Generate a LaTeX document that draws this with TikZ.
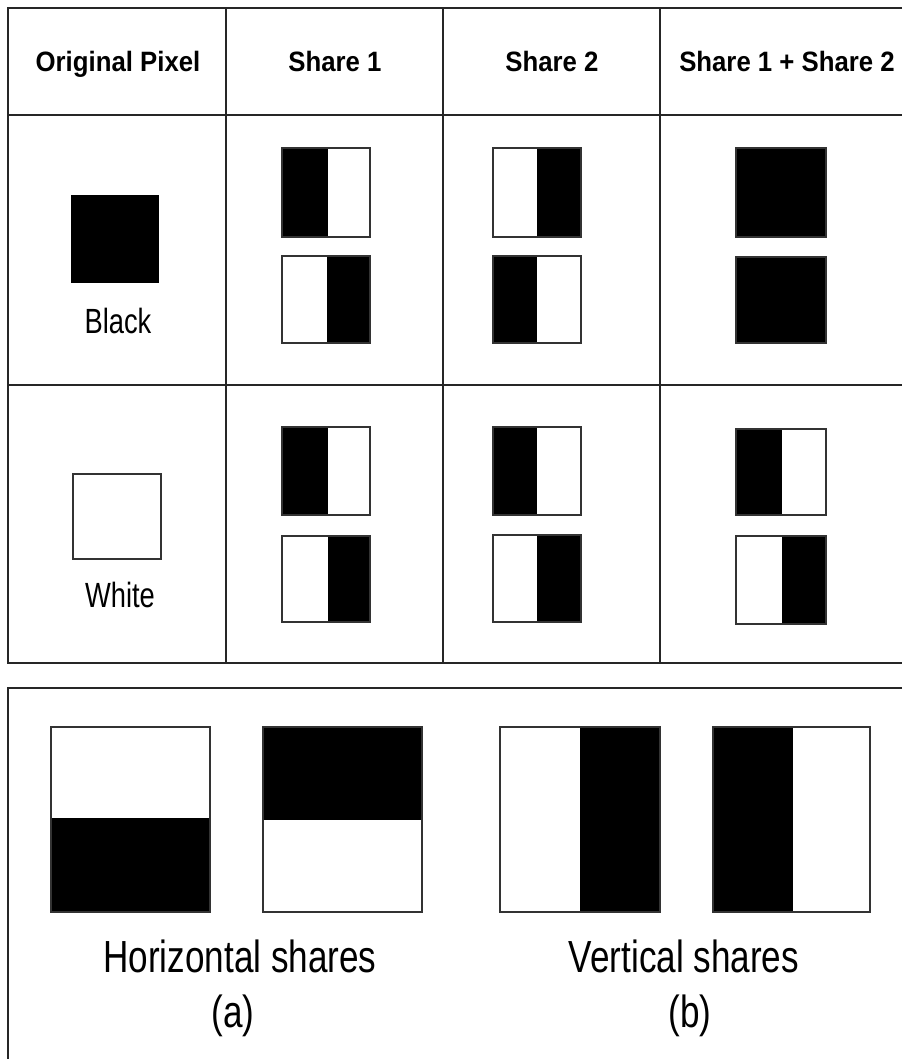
\documentclass[tikz,border=0pt]{standalone}
\usepackage{fontspec}
\setmainfont{Liberation Sans}
\usepackage{graphicx}

% share squares: corners (x1,y1)-(x2,y2), split at the fifth argument
\newcommand\sqblackleft[5]{\fill[black] (#1,#2) rectangle (#5,#4);\draw[sqframe] (#1,#2) rectangle (#3,#4);}
\newcommand\sqblackright[5]{\fill[black] (#5,#2) rectangle (#3,#4);\draw[sqframe] (#1,#2) rectangle (#3,#4);}
\newcommand\sqblacktop[5]{\fill[black] (#1,#2) rectangle (#3,#5);\draw[sqframe] (#1,#2) rectangle (#3,#4);}
\newcommand\sqblackbottom[5]{\fill[black] (#1,#5) rectangle (#3,#4);\draw[sqframe] (#1,#2) rectangle (#3,#4);}
\newcommand\sqfull[4]{\fill[black] (#1,#2) rectangle (#3,#4);\draw[sqframe] (#1,#2) rectangle (#3,#4);}

\begin{document}
\begin{tikzpicture}[x=1pt,y=-1pt,
  rule/.style={line width=1.8pt,black!85},
  sqframe/.style={line width=1.8pt,black!80},
  headtext/.style={anchor=base,inner sep=0pt,font=\fontsize{28}{32}\selectfont\bfseries},
  celltext/.style={anchor=base,inner sep=0pt,font=\fontsize{35}{40}\selectfont},
  captext/.style={anchor=base,inner sep=0pt,font=\fontsize{45}{52}\selectfont}]
\useasboundingbox (0,0) rectangle (902,1059);
\fill[white] (0,0) rectangle (902,1059);

% table grid
\draw[rule] (902,8) -- (8,8) -- (8,663) -- (902,663);
\draw[rule] (8,115) -- (902,115);
\draw[rule] (8,385) -- (902,385);
\draw[rule] (226,8) -- (226,663);
\draw[rule] (443,8) -- (443,663);
\draw[rule] (660,8) -- (660,663);

% headings
\node[headtext] (hOrig) at (118,72) {\scalebox{0.92}[1]{Original Pixel}};
\node[headtext] (hS1) at (335,72) {\scalebox{0.92}[1]{Share 1}};
\node[headtext] (hS2) at (552,72) {\scalebox{0.92}[1]{Share 2}};
\node[headtext] (hSum) at (787,72) {\scalebox{0.92}[1]{Share 1 + Share 2}};

% black pixel row
\fill[black] (71,195) rectangle (159,283);
\node[celltext] (lBlack) at (118,333) {\scalebox{0.78}[1]{Black}};
\sqblackleft{282}{148}{370}{237}{328}
\sqblackright{282}{256}{370}{343}{327}
\sqblackright{493}{148}{581}{237}{537}
\sqblackleft{493}{256}{581}{343}{537}
\sqfull{736}{148}{826}{237}
\sqfull{736}{257}{826}{343}

% white pixel row
\draw[sqframe] (73,474) rectangle (161,559);
\node[celltext] (lWhite) at (120,607) {\scalebox{0.78}[1]{White}};
\sqblackleft{282}{427}{370}{515}{328}
\sqblackright{282}{536}{370}{622}{328}
\sqblackleft{493}{427}{581}{515}{537}
\sqblackright{493}{535}{581}{622}{537}
\sqblackleft{736}{429}{826}{515}{782}
\sqblackright{736}{536}{826}{624}{782}

% lower panel
\draw[rule] (902,688) -- (8,688) -- (8,1059);
\sqblackbottom{51}{727}{210}{912}{818}
\sqblacktop{263}{727}{422}{912}{820}
\sqblackright{500}{727}{660}{912}{580}
\sqblackleft{713}{727}{870}{912}{793}

\node[captext] (cH) at (240,972) {\scalebox{0.78}[1]{Horizontal shares}};
\node[captext] (cA) at (233,1027) {\scalebox{0.78}[1]{(a)}};
\node[captext] (cV) at (684,972) {\scalebox{0.78}[1]{Vertical shares}};
\node[captext] (cB) at (690,1027) {\scalebox{0.78}[1]{(b)}};
\end{tikzpicture}
\end{document}
